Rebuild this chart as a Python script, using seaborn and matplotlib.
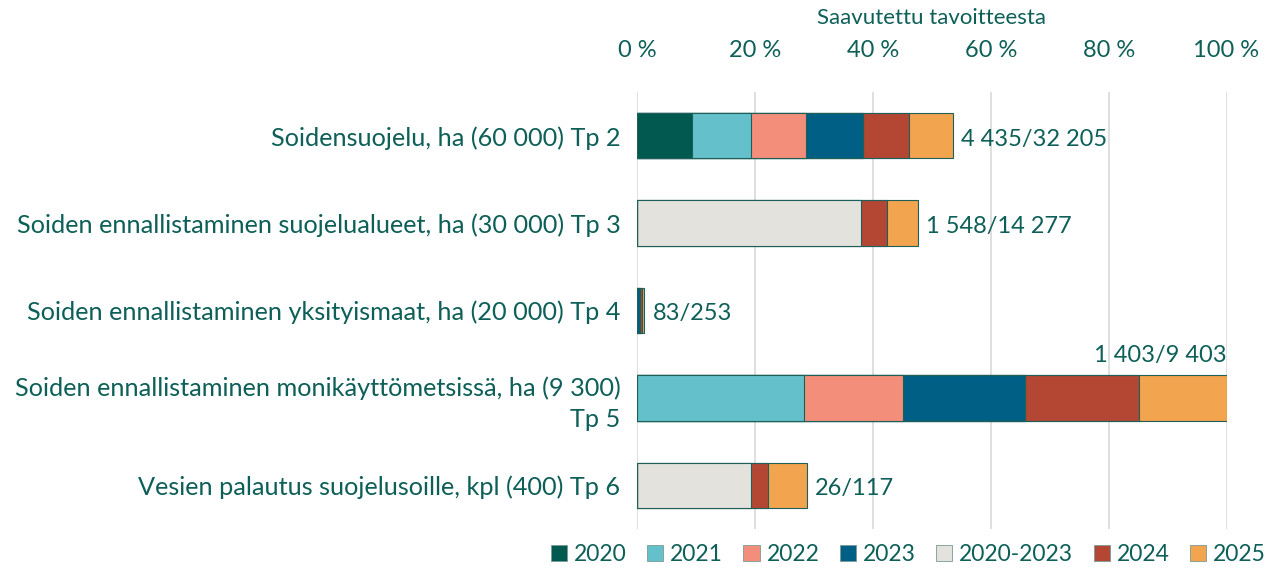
import numpy as np
import pandas as pd
import seaborn as sns
import matplotlib
matplotlib.use("Agg")
import matplotlib.pyplot as plt
from matplotlib.patches import Patch

categories = [
    "Soidensuojelu, ha (60 000) Tp 2",
    "Soiden ennallistaminen suojelualueet, ha (30 000) Tp 3",
    "Soiden ennallistaminen yksityismaat, ha (20 000) Tp 4",
    "Soiden ennallistaminen monikäyttömetsissä, ha (9 300)\nTp 5",
    "Vesien palautus suojelusoille, kpl (400) Tp 6",
]
series_names = ["2020", "2021", "2022", "2023", "2020-2023", "2024", "2025"]
v2020 = [9.3, 0, 0, 0, 0]
v2021 = [10.0, 0, 0, 28.3, 0]
v2022 = [9.3, 0, 0, 16.8, 0]
v2023 = [9.8, 0, 0.6, 20.7, 0]
v2020_2023 = [0, 38.0, 0, 0, 19.4]
v2024 = [7.8, 4.4, 0.25, 19.3, 2.9]
v2025 = [7.4, 5.2, 0.42, 14.9, 6.5]
labels = ["4 435/32 205", "1 548/14 277", "83/253", "1 403/9 403", "26/117"]
xticks = [0, 20, 40, 60, 80, 100]
xtick_labels = ["0 %", "20 %", "40 %", "60 %", "80 %", "100 %"]

colors = ["#01594f", "#64c1cb", "#f28e79", "#005f84", "#e3e2dd", "#b34734", "#f3a44e"]
text_color = "#0d5f58"

sns.set_theme(style="white")
plt.rcParams['font.family'] = ['Lato', 'DejaVu Sans']

values = np.array([v2020, v2021, v2022, v2023, v2020_2023, v2024, v2025])
cum = np.cumsum(values, axis=0)

fig = plt.figure(figsize=(12.79, 5.69), dpi=100)
ax = fig.add_axes([0.498, 0.0703, 0.461, 0.768])

for i in range(len(series_names) - 1, -1, -1):
    df = pd.DataFrame({"cat": categories, "val": cum[i]})
    sns.barplot(data=df, x="val", y="cat", order=categories, orient="h",
                color=colors[i], saturation=1, width=0.52,
                edgecolor="#1f5f5a", linewidth=0.8, ax=ax)

ax.set_xlim(0, 100)
ax.set_ylim(4.5, -0.5)
ax.xaxis.tick_top()
ax.xaxis.set_label_position("top")
ax.set_xticks(xticks)
ax.set_xticklabels(xtick_labels, fontsize=17, color=text_color)
ax.set_xlabel("Saavutettu tavoitteesta", fontsize=16, color=text_color, labelpad=12)
ax.set_ylabel("")
ax.tick_params(axis="x", length=0, pad=22)
ax.tick_params(axis="y", length=0, pad=12)
for t in ax.get_yticklabels():
    t.set_fontsize(18.2)
    t.set_color(text_color)
    t.set_horizontalalignment("right")
    t.set_linespacing(1.4)
for s in ax.spines.values():
    s.set_visible(False)
ax.grid(axis="x", color="#d9d9d9", linewidth=1.2)
ax.set_axisbelow(True)

totals = cum[-1]
for i, (tot, lab) in enumerate(zip(totals, labels)):
    if tot >= 99:
        ax.text(100, i - 0.36, lab, ha="right", va="bottom", fontsize=17, color=text_color)
    else:
        ax.text(tot + 1.4, i + 0.04, lab, ha="left", va="center", fontsize=17, color=text_color)

handles = [Patch(facecolor=c, edgecolor="#7a9a95", linewidth=0.6) for c in colors]
fig.legend(handles, series_names, loc="lower right", bbox_to_anchor=(1.006, -0.03),
           ncol=7, frameon=False, fontsize=16.5, labelcolor=text_color,
           handlelength=0.7, handleheight=0.7, handletextpad=0.3, columnspacing=0.9)

fig.savefig("out.png", dpi=100)
